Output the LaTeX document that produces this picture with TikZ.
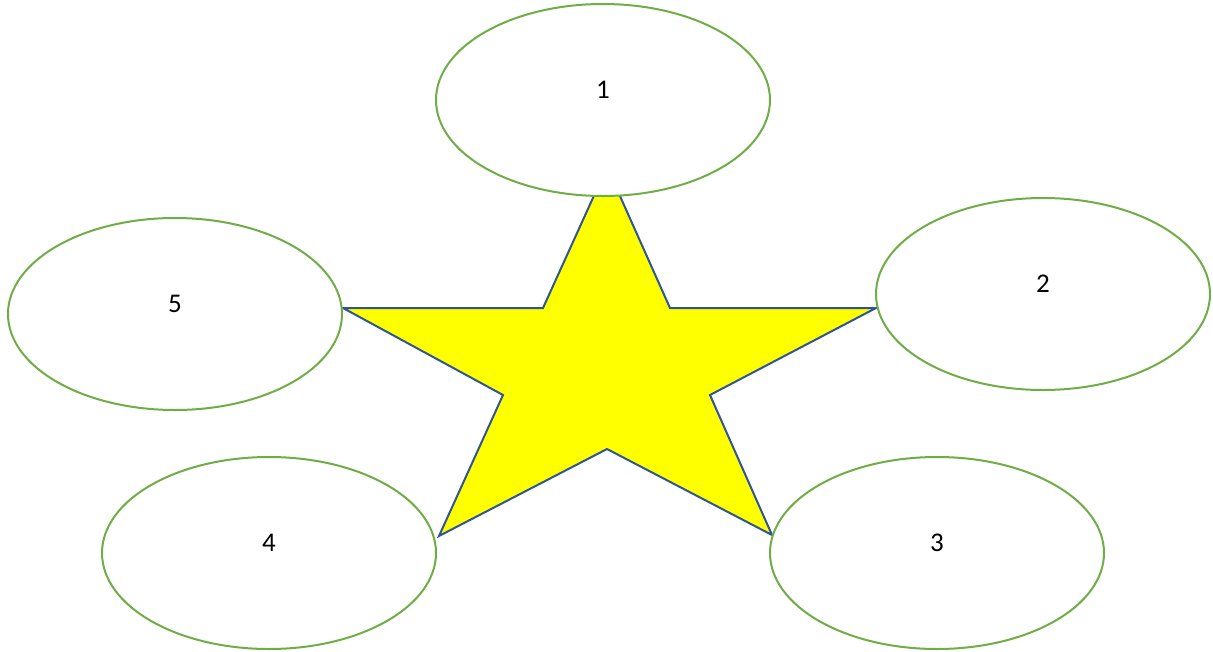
\documentclass[tikz,border=0pt]{standalone}
\usepackage{fontspec}
\setmainfont{Carlito}
\usetikzlibrary{shapes.geometric}
\definecolor{egreen}{HTML}{70AD47}
\definecolor{sblue}{HTML}{2F5597}
\definecolor{syellow}{HTML}{FFFF00}
\tikzset{
  bubble/.style={ellipse, draw=egreen, line width=2pt, fill=white, minimum width=334pt, minimum height=192pt, inner sep=0pt},
  lab/.style={font=\fontsize{27}{32}\selectfont, inner sep=0pt, anchor=center},
  starline/.style={draw=sblue, fill=syellow, line width=2pt, line join=miter}
}
\begin{document}
\begin{tikzpicture}[x=1pt,y=-1pt]
\useasboundingbox (0,0) rectangle (1213,651);
% star
\draw[starline] (607,167) -- (670,308) -- (876,308) -- (710,395) -- (772,535)
  -- (607,449) -- (439,536) -- (503,395) -- (343,308) -- (543,308) -- cycle;
% ellipses
\node[bubble] (e1) at (603,100) {};
\node[bubble] (e2) at (1043,294) {};
\node[bubble] (e3) at (937,553) {};
\node[bubble] (e4) at (269,553) {};
\node[bubble] (e5) at (175,314) {};
\node[lab] (l1) at ([yshift=10pt]e1.center) {1};
\node[lab] (l2) at ([yshift=10pt]e2.center) {2};
\node[lab] (l3) at ([yshift=10pt]e3.center) {3};
\node[lab] (l4) at ([yshift=10pt]e4.center) {4};
\node[lab] (l5) at ([yshift=10pt]e5.center) {5};
\end{tikzpicture}
\end{document}
